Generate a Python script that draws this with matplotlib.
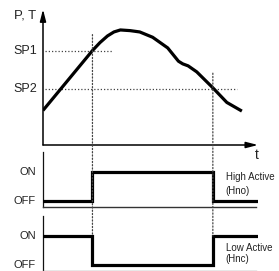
import matplotlib
matplotlib.use("Agg")
import matplotlib.pyplot as plt
from matplotlib.patches import ConnectionPatch

plt.rcParams["font.family"] = ["Liberation Sans", "DejaVu Sans"]

# -----------------------------------------------------------------
# Datos (unidades arbitrarias 0..100)
# -----------------------------------------------------------------
t_curve = [0, 23, 26.5, 30, 33, 36, 40.5, 45, 51, 58, 63, 65, 67.5, 71.5, 79, 85.5, 92.5]
pt_curve = [26, 71, 77, 82, 85, 86.5, 86, 85, 81, 73, 63, 61, 59.5, 55, 43, 32, 25.5]

sp1 = 71
sp2 = 42
t_on = 23      # cruce de SP1 subiendo
t_off = 79     # cruce de SP2 bajando
t_end = 99

sig_times = [0, t_on, t_off, t_end]
high_active = [0, 1, 0, 0]   # Hno
low_active = [1, 0, 1, 1]    # Hnc

level_labels = ["OFF", "ON"]

# -----------------------------------------------------------------
# Figura
# -----------------------------------------------------------------
W, H = 279, 271
fig = plt.figure(figsize=(W / 100, H / 100), dpi=100)


def px_axes(x0, y_top, x1, y_bot):
    return fig.add_axes([x0 / W, 1 - y_bot / H, (x1 - x0) / W, (y_bot - y_top) / H])


ax = px_axes(43, 12, 258, 145)
ax_hi = px_axes(43, 152.3, 258, 206.8)
ax_lo = px_axes(43, 216.3, 258, 270.8)

txt_col = "#222222"
dot_style = (0, (1, 1.6))

# -----------------------------------------------------------------
# Panel principal: P, T vs t
# -----------------------------------------------------------------
ax.set_xlim(0, 100)
ax.set_ylim(0, 100)
for s in ax.spines.values():
    s.set_visible(False)
ax.set_xticks([])
ax.set_yticks([])
ax.patch.set_alpha(0)

ax.plot(t_curve, pt_curve, color="black", lw=2.3, solid_joinstyle="round",
        solid_capstyle="butt", zorder=3)

ax.hlines(sp1, 1, 32.5, colors="#444444", lw=0.9, linestyles=[dot_style])
ax.hlines(sp2, 1, 90, colors="#444444", lw=0.9, linestyles=[dot_style])

arrow_kw = dict(arrowstyle="-|>,head_width=0.18,head_length=0.7", lw=1.1,
                color="black", shrinkA=0, shrinkB=0, mutation_scale=10)
ax.annotate("", xy=(0, 1.02), xytext=(0, 0), xycoords="axes fraction",
            arrowprops=arrow_kw)
ax.annotate("", xy=(1.0, 0), xytext=(0, 0), xycoords="axes fraction",
            arrowprops=arrow_kw)

ax.annotate("P, T", xy=(0, 1), xycoords="axes fraction", xytext=(-5, -2.3),
            textcoords="offset points", ha="right", va="center",
            fontsize=9.5, color=txt_col)
ax.annotate("SP1", xy=(0, sp1), xytext=(-4.5, 0), textcoords="offset points",
            ha="right", va="center", fontsize=9, color=txt_col)
ax.annotate("SP2", xy=(0, sp2), xytext=(-4.5, 0), textcoords="offset points",
            ha="right", va="center", fontsize=9, color=txt_col)
ax.annotate("t", xy=(99.5, 0), xytext=(0, -7.5), textcoords="offset points",
            ha="center", va="center", fontsize=10, color=txt_col)

# -----------------------------------------------------------------
# Paneles de salida
# -----------------------------------------------------------------
for a, state in [(ax_hi, high_active), (ax_lo, low_active)]:
    a.set_xlim(0, 100)
    a.set_ylim(-0.2, 1.68)
    a.set_xticks([])
    a.set_yticks([])
    a.patch.set_alpha(0)
    a.spines["top"].set_visible(False)
    a.spines["right"].set_visible(False)
    a.spines["left"].set_color("#111111")
    a.spines["left"].set_linewidth(0.9)
    a.spines["bottom"].set_bounds(0, t_end)
    a.step(sig_times, state, where="post", color="black", lw=2.3,
           solid_joinstyle="miter", zorder=3)
    for lvl, lab in enumerate(level_labels):
        a.annotate(lab, xy=(0, lvl), xytext=(-5, 0), textcoords="offset points",
                   ha="right", va="center", fontsize=8, color=txt_col)

ax_hi.spines["bottom"].set_color("#333333")
ax_hi.spines["bottom"].set_linewidth(1.0)
ax_lo.spines["bottom"].set_color("#888888")
ax_lo.spines["bottom"].set_linewidth(1.0)

ax_hi.text(85, 0.72, "High Active", fontsize=7, color=txt_col, va="baseline", ha="left")
ax_hi.text(85, 0.23, "(Hno)", fontsize=7, color=txt_col, va="baseline", ha="left")
ax_lo.text(85, 0.49, "Low Active", fontsize=7, color=txt_col, va="baseline", ha="left")
ax_lo.text(85, 0.09, "(Hnc)", fontsize=7, color=txt_col, va="baseline", ha="left")

# lineas verticales punteadas de conmutacion
for t_sw, sp in [(t_on, sp1), (t_off, sp2)]:
    con = ConnectionPatch(xyA=(t_sw, sp + 12), coordsA=ax.transData,
                          xyB=(t_sw, 1), coordsB=ax_lo.transData,
                          color="#444444", lw=0.9, linestyle=dot_style, zorder=1)
    fig.add_artist(con)

fig.savefig("out.png", dpi=100)
